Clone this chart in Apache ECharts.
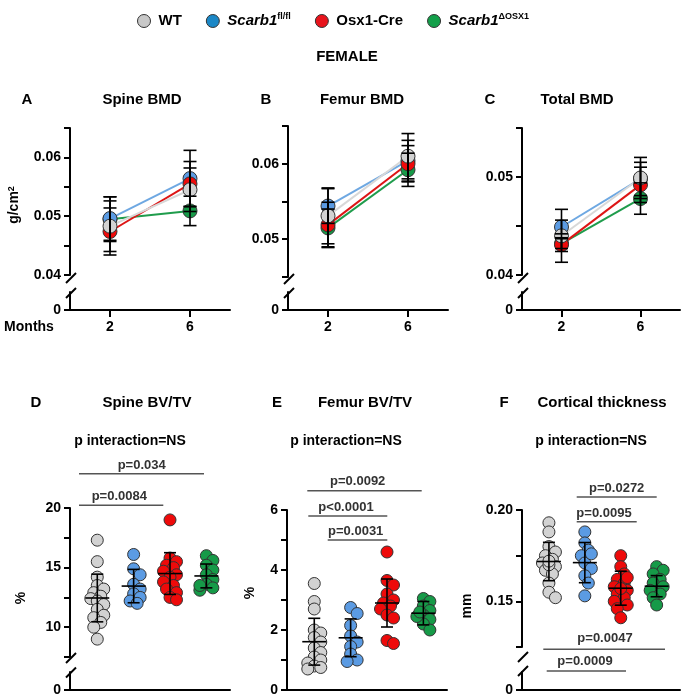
<!DOCTYPE html>
<html>
<head>
<meta charset="utf-8">
<script src="https://cdn.jsdelivr.net/npm/echarts@6/dist/echarts.min.js"></script>
<style>
  html, body { margin: 0; padding: 0; background: #fff; }
  #main { width: 689px; height: 699px; }
</style>
</head>
<body>
<div id="main"></div>
<script>
// groups, in legend order
var groups = ['WT', 'Scarb1fl', 'Osx1-Cre', 'Scarb1ko'];
var months = ['2', '6'];

// A-C: mean and SD per group at 2 and 6 months (g/cm2)
var spineBmdMean = [[0.0483, 0.0545], [0.0496, 0.0564], [0.0474, 0.0555], [0.0495, 0.0509]];
var spineBmdSd   = [[0.0043, 0.0037], [0.0037, 0.0048], [0.0040, 0.0038], [0.0038, 0.0025]];
var femurBmdMean = [[0.0531, 0.0610], [0.0544, 0.0604], [0.0519, 0.0600], [0.0515, 0.0592]];
var femurBmdSd   = [[0.0037, 0.0030], [0.0023, 0.0027], [0.0030, 0.0024], [0.0025, 0.0022]];
var totalBmdMean = [[0.0440, 0.0499], [0.0449, 0.0498], [0.0431, 0.0492], [0.0432, 0.0478]];
var totalBmdSd   = [[0.0027, 0.0021], [0.0007, 0.0017], [0.0007, 0.0018], [0.0005, 0.0016]];

// D: spine BV/TV (%)
var spineBvtv = [
  [17.3, 15.5, 14.2, 13.5, 13.2, 12.9, 12.6, 12.4, 12.2, 11.9, 11.5, 11.0, 10.8, 10.4, 10.0, 9.0],
  [16.1, 14.9, 14.4, 13.6, 13.2, 12.8, 12.5, 12.2, 12.0],
  [19.0, 15.8, 15.5, 15.2, 15.0, 14.7, 14.4, 14.2, 13.8, 13.5, 13.2, 12.9, 12.5, 12.3],
  [16.0, 15.6, 15.2, 14.8, 14.4, 14.0, 13.6, 13.3, 13.1, 13.5]
];
var spineBvtvMean = [12.45, 13.45, 14.5, 14.3];
var spineBvtvSd   = [2.0, 1.4, 1.75, 1.0];

// E: femur BV/TV (%)
var femurBvtv = [
  [3.55, 2.95, 2.7, 2.0, 1.9, 1.75, 1.6, 1.4, 1.25, 1.1, 1.0, 0.9, 0.8, 0.75, 0.7],
  [2.75, 2.55, 2.15, 1.8, 1.6, 1.45, 1.2, 1.0, 0.95],
  [4.6, 3.65, 3.5, 3.2, 3.0, 2.9, 2.8, 2.7, 2.5, 2.4, 1.65, 1.55],
  [3.05, 2.95, 2.8, 2.65, 2.5, 2.35, 2.2, 2.0, 2.45, 2.6]
];
var femurBvtvMean = [1.61, 1.74, 2.9, 2.56];
var femurBvtvSd   = [0.78, 0.63, 0.8, 0.39];

// F: cortical thickness (mm)
var corticalTh = [
  [0.193, 0.188, 0.180, 0.177, 0.175, 0.173, 0.171, 0.169, 0.167, 0.165, 0.160, 0.155, 0.152, 0.170, 0.172],
  [0.188, 0.182, 0.178, 0.175, 0.171, 0.168, 0.164, 0.160, 0.153, 0.176],
  [0.175, 0.169, 0.165, 0.162, 0.160, 0.158, 0.156, 0.154, 0.152, 0.150, 0.148, 0.146, 0.141, 0.163, 0.157],
  [0.169, 0.167, 0.165, 0.162, 0.160, 0.158, 0.156, 0.154, 0.152, 0.148]
];
var corticalThMean = [0.1718, 0.1712, 0.1572, 0.1583];
var corticalThSd   = [0.0105, 0.0110, 0.0093, 0.0058];

var FONT = 'Liberation Sans, Arial, sans-serif';
var dotFill  = ['#d2d2d2', '#5b9be3', '#ee0a0a', '#169a48'];
var lineCol  = ['#d8d8d8', '#6ea8e2', '#dd1515', '#1f9c4c'];
var legendFill = ['#c8c8c8', '#1b87c6', '#e8141c', '#13a04a'];

var chart = echarts.init(document.getElementById('main'));

function grid(left, top, width, height) {
  return { left: left, top: top, width: width, height: height, outerBoundsMode: 'none' };
}
var grids = [
  grid(70, 128, 160, 147), grid(70, 292, 160, 18),     // A
  grid(288, 126, 160, 151), grid(288, 292, 160, 18),   // B
  grid(522, 128, 158, 147), grid(522, 292, 158, 18),   // C
  grid(70, 508, 160, 149), grid(70, 672, 160, 18),     // D
  grid(287, 510, 160, 180),                            // E
  grid(522, 510, 158, 137), grid(522, 672, 158, 18)    // F
];

var black = { color: '#000', width: 2 };
function yMain(g, min, max, interval, step, dec) {
  return {
    type: 'value', gridIndex: g, min: min, max: max, interval: interval,
    axisLine: { show: true, lineStyle: black },
    axisTick: { show: true, length: 6, lineStyle: black },
    splitLine: { show: false },
    axisLabel: {
      color: '#000', fontWeight: 'bold', fontSize: 14, fontFamily: FONT, margin: 9,
      formatter: function (v) {
        var r = v / step;
        return Math.abs(r - Math.round(r)) < 1e-6 ? v.toFixed(dec) : '';
      }
    }
  };
}
function yStub(g) {
  return {
    type: 'value', gridIndex: g, min: 0, max: 1,
    axisLine: { show: true, lineStyle: black },
    axisTick: { show: true, length: 6, lineStyle: black, customValues: [0] },
    splitLine: { show: false },
    axisLabel: { customValues: [0], formatter: function () { return '0'; },
      color: '#000', fontWeight: 'bold', fontSize: 14, fontFamily: FONT, margin: 9 }
  };
}
function xCatHidden(g) {
  return { type: 'category', gridIndex: g, data: months, show: false };
}
function xCat(g) {
  return {
    type: 'category', gridIndex: g, data: months,
    axisLine: { show: true, lineStyle: black },
    axisTick: { show: true, alignWithLabel: true, length: 7, lineStyle: black },
    axisLabel: { color: '#000', fontWeight: 'bold', fontSize: 14, fontFamily: FONT, margin: 10 }
  };
}
function xVal(g, visible) {
  return {
    type: 'value', gridIndex: g, min: 0.25, max: 4.65, show: visible,
    axisLine: { show: true, onZero: false, lineStyle: black },
    axisTick: { show: false }, axisLabel: { show: false }, splitLine: { show: false }
  };
}

var xAxes = [
  xCatHidden(0), xCat(1), xCatHidden(2), xCat(3), xCatHidden(4), xCat(5),
  xVal(6, false), xVal(7, true), xVal(8, true), xVal(9, false), xVal(10, true)
];
var yAxes = [
  yMain(0, 0.04, 0.065, 0.005, 0.01, 2), yStub(1),
  yMain(2, 0.045, 0.065, 0.005, 0.01, 2), yStub(3),
  yMain(4, 0.04, 0.055, 0.005, 0.01, 2), yStub(5),
  yMain(6, 7.5, 20, 2.5, 5, 0), yStub(7),
  yMain(8, 0, 6, 1, 2, 0),
  yMain(9, 0.125, 0.2, 0.025, 0.05, 2), yStub(10)
];

var series = [];

// error bars: x, mean, sd; meanHalf > 0 draws the horizontal mean line
function errBars(axis, rows, capHalf, meanHalf) {
  return {
    type: 'custom', xAxisIndex: axis, yAxisIndex: axis, z: 10, silent: true,
    data: rows, encode: { x: 0, y: 1 },
    renderItem: function (params, api) {
      var x = api.value(0), m = api.value(1), s = api.value(2);
      var c = api.coord([x, m]), hi = api.coord([x, m + s]), lo = api.coord([x, m - s]);
      var st = { stroke: '#000', lineWidth: 1.6 };
      var kids = [
        { type: 'line', shape: { x1: c[0], y1: hi[1], x2: c[0], y2: lo[1] }, style: st },
        { type: 'line', shape: { x1: c[0] - capHalf, y1: hi[1], x2: c[0] + capHalf, y2: hi[1] }, style: st },
        { type: 'line', shape: { x1: c[0] - capHalf, y1: lo[1], x2: c[0] + capHalf, y2: lo[1] }, style: st }
      ];
      if (meanHalf) {
        kids.push({ type: 'line', shape: { x1: c[0] - meanHalf, y1: c[1], x2: c[0] + meanHalf, y2: c[1] }, style: st });
      }
      return { type: 'group', children: kids };
    }
  };
}

// A-C line panels
var drawOrder = [3, 1, 2, 0];
[[spineBmdMean, spineBmdSd, 0], [femurBmdMean, femurBmdSd, 2], [totalBmdMean, totalBmdSd, 4]].forEach(function (p) {
  var mean = p[0], sd = p[1], ax = p[2];
  drawOrder.forEach(function (g) {
    series.push({
      name: groups[g], type: 'line', xAxisIndex: ax, yAxisIndex: ax,
      data: mean[g], symbol: 'circle', symbolSize: 14, showSymbol: true,
      itemStyle: { color: dotFill[g], borderColor: '#333', borderWidth: 1 },
      lineStyle: { color: lineCol[g], width: 2 },
      emphasis: { disabled: true }
    });
  });
  var rows = [];
  drawOrder.forEach(function (g) {
    for (var t = 0; t < 2; t++) rows.push([t, mean[g][t], sd[g][t]]);
  });
  series.push(errBars(ax, rows, 6.5, 0));
});

// simple beeswarm offsets (px -> x units)
function swarm(vals, pyPerUnit, pxPerX) {
  var placed = [], offs = [0, 3.5, -3.5, 6.5, -6.5];
  return vals.map(function (v) {
    var py = v * pyPerUnit, best = 0, bestD = -1;
    for (var k = 0; k < offs.length; k++) {
      var o = offs[k], dmin = Infinity;
      placed.forEach(function (q) {
        var d = Math.hypot(q.x - o, q.y - py);
        if (d < dmin) dmin = d;
      });
      if (dmin >= 7.5) { best = o; break; }
      if (dmin > bestD) { bestD = dmin; best = o; }
    }
    placed.push({ x: best, y: py });
    return best / pxPerX;
  });
}

// D-F dot panels
[[spineBvtv, spineBvtvMean, spineBvtvSd, 6, 149 / 12.5, 160 / 4.4],
 [femurBvtv, femurBvtvMean, femurBvtvSd, 8, 180 / 6, 160 / 4.4],
 [corticalTh, corticalThMean, corticalThSd, 9, 137 / 0.075, 158 / 4.4]].forEach(function (p) {
  var vals = p[0], mean = p[1], sd = p[2], ax = p[3];
  vals.forEach(function (arr, g) {
    var offs = swarm(arr, p[4], p[5]);
    series.push({
      name: groups[g], type: 'scatter', xAxisIndex: ax, yAxisIndex: ax,
      symbol: 'circle', symbolSize: 12,
      data: arr.map(function (v, i) { return [g + 1 + offs[i], v]; }),
      itemStyle: { color: dotFill[g], borderColor: '#333', borderWidth: 1, opacity: 1 },
      emphasis: { disabled: true }
    });
  });
  series.push(errBars(ax, mean.map(function (m, g) { return [g + 1, m, sd[g]]; }), 6, 12));
});

// annotations
function txt(x, y, s, size, extra) {
  var o = { type: 'text', x: x, y: y, silent: true,
    style: { text: s, fill: '#000', font: 'bold ' + size + 'px ' + FONT, align: 'center', verticalAlign: 'middle' } };
  if (extra) for (var k in extra) o[k] = extra[k];
  return o;
}
function pTxt(x, y, s) {
  var t = txt(x, y, s, 13);
  t.style.fill = '#333';
  return t;
}
function hline(x1, x2, y) {
  return { type: 'line', silent: true, shape: { x1: x1, y1: y, x2: x2, y2: y }, style: { stroke: '#555', lineWidth: 1.5 } };
}
function slash(x, y) {
  return { type: 'line', silent: true, shape: { x1: x - 5, y1: y + 5, x2: x + 5, y2: y - 5 }, style: { stroke: '#000', lineWidth: 2 } };
}

var graphics = [
  txt(347, 57, 'FEMALE', 15),
  txt(27, 100, 'A', 15), txt(142, 100, 'Spine BMD', 15),
  txt(266, 100, 'B', 15), txt(362, 100, 'Femur BMD', 15),
  txt(490, 100, 'C', 15), txt(577, 100, 'Total BMD', 15),
  {
    type: 'text', x: 14, y: 205, rotation: Math.PI / 2, silent: true,
    style: { text: 'g/cm{s|2}', fill: '#000', font: 'bold 14px ' + FONT, align: 'center', verticalAlign: 'middle',
      rich: { s: { font: 'bold 9px ' + FONT, fill: '#000', verticalAlign: 'top', lineHeight: 10 } } }
  },
  txt(29, 327, 'Months', 14),
  txt(36, 403, 'D', 15), txt(147, 403, 'Spine BV/TV', 15),
  txt(277, 403, 'E', 15), txt(365, 403, 'Femur BV/TV', 15),
  txt(504, 403, 'F', 15), txt(602, 403, 'Cortical thickness', 15),
  txt(130, 441.5, 'p interaction=NS', 14),
  txt(346, 441.5, 'p interaction=NS', 14),
  txt(591, 441.5, 'p interaction=NS', 14),
  txt(21, 598, '%', 14, { rotation: Math.PI / 2 }),
  txt(250, 593, '%', 14, { rotation: Math.PI / 2 }),
  txt(467, 606, 'mm', 14, { rotation: Math.PI / 2 }),
  // D brackets
  hline(79, 204, 473.7), pTxt(141.7, 465, 'p=0.034'),
  hline(79, 163.3, 505.3), pTxt(119.3, 496.7, 'p=0.0084'),
  // E brackets
  hline(307.3, 421.7, 490.7), pTxt(357.7, 481.7, 'p=0.0092'),
  hline(308.3, 387.3, 516), pTxt(346, 507.3, 'p<0.0001'),
  hline(327.7, 387.3, 540), pTxt(355.7, 531, 'p=0.0031'),
  // F brackets
  hline(576.7, 656.7, 497), pTxt(616.7, 488, 'p=0.0272'),
  hline(576.7, 636.7, 521.7), pTxt(604, 513, 'p=0.0095'),
  hline(543.3, 665, 649.3), pTxt(605, 638.7, 'p=0.0047'),
  hline(546.7, 626, 671), pTxt(585, 661.7, 'p=0.0009'),
  // axis breaks
  slash(71, 278), slash(71, 293),
  slash(289, 279), slash(289, 293),
  slash(523, 278), slash(523, 293),
  slash(71, 658), slash(71, 672.5),
  slash(523, 657), slash(523, 671)
];

var option = {
  animation: false,
  backgroundColor: '#fff',
  legend: {
    top: 7, left: 132, itemWidth: 13, itemHeight: 13, itemGap: 24, icon: 'circle',
    selectedMode: false,
    data: groups.map(function (n, g) {
      return { name: n, itemStyle: { color: legendFill[g], borderColor: '#333', borderWidth: 1 } };
    }),
    formatter: function (name) {
      if (name === 'Scarb1fl') return '{i|Scarb1}{s|fl/fl}';
      if (name === 'Scarb1ko') return '{i|Scarb1}{s|\u0394OSX1}';
      return name;
    },
    textStyle: {
      color: '#000', fontWeight: 'bold', fontSize: 15, fontFamily: FONT, padding: [0, 0, 0, 3],
      rich: {
        i: { fontStyle: 'italic', fontWeight: 'bold', fontSize: 15, fontFamily: FONT, color: '#000', lineHeight: 18 },
        s: { fontWeight: 'bold', fontSize: 9, fontFamily: FONT, color: '#000', verticalAlign: 'top', lineHeight: 10 }
      }
    }
  },
  grid: grids,
  xAxis: xAxes,
  yAxis: yAxes,
  series: series,
  graphic: graphics
};

option && chart.setOption(option);
</script>
</body>
</html>
